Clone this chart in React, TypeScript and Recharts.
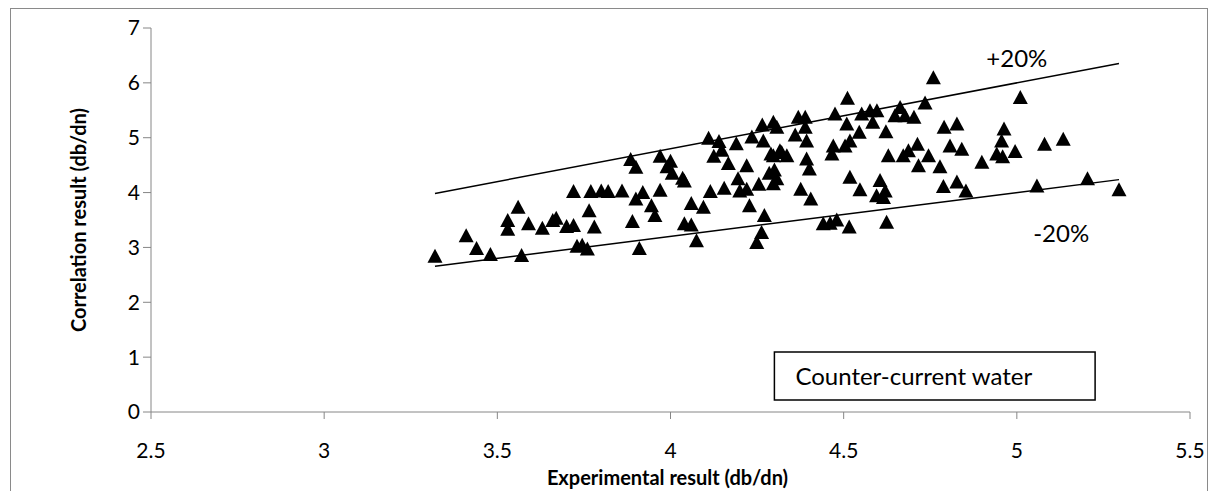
import React from "react";
import {
  ScatterChart,
  Scatter,
  XAxis,
  YAxis,
  ReferenceLine,
  ReferenceArea,
  ReferenceDot,
  Label,
} from "recharts";

// experimental (x) vs correlation (y), db/dn
const expResult = [
  3.32, 3.41, 3.44, 3.48, 3.53, 3.53, 3.56, 3.57, 3.59, 3.63,
  3.66, 3.67, 3.7, 3.72, 3.72, 3.73, 3.745, 3.76, 3.765, 3.77,
  3.78, 3.8, 3.82, 3.86, 3.885, 3.9, 3.9, 3.89, 3.92, 3.91,
  3.945, 3.955, 3.97, 3.97, 4.0, 3.99, 4.005, 4.035, 4.04, 4.06,
  4.095, 4.115, 4.155, 4.11, 4.14, 4.148, 4.125, 4.167, 4.19, 4.235,
  4.22, 4.195, 4.2, 4.22, 4.255, 4.228, 4.04, 4.06, 4.075, 4.265,
  4.297, 4.268, 4.29, 4.316, 4.285, 4.3, 4.297, 4.307, 4.271, 4.263,
  4.249, 4.307, 4.297, 4.336, 4.369, 4.389, 4.36, 4.389, 4.393, 4.321,
  4.393, 4.401, 4.376, 4.405, 4.475, 4.511, 4.509, 4.545, 4.518, 4.504,
  4.47, 4.466, 4.552, 4.576, 4.596, 4.584, 4.622, 4.629, 4.663, 4.648,
  4.672, 4.518, 4.547, 4.605, 4.595, 4.62, 4.615, 4.624, 4.441, 4.461,
  4.48, 4.516, 4.677, 4.703, 4.735, 4.759, 4.79, 4.827, 4.807, 4.841,
  4.713, 4.687, 4.745, 4.716, 4.778, 4.899, 4.788, 4.827, 4.853, 4.963,
  4.956, 4.942, 4.959, 4.995, 5.01, 5.08, 5.134, 5.058, 5.204, 5.295,
];

const corrResult = [
  2.85, 3.22, 2.99, 2.88, 3.5, 3.34, 3.74, 2.86, 3.44, 3.36,
  3.5, 3.54, 3.39, 3.41, 4.03, 3.03, 3.05, 2.98, 3.68, 4.03,
  3.38, 4.04, 4.03, 4.04, 4.61, 4.47, 3.89, 3.48, 4.01, 2.99,
  3.77, 3.59, 4.05, 4.67, 4.58, 4.48, 4.36, 4.27, 4.22, 3.81,
  3.74, 4.03, 4.09, 5.0, 4.94, 4.78, 4.67, 4.54, 4.9, 5.02,
  4.5, 4.26, 4.04, 4.07, 4.16, 3.77, 3.44, 3.42, 3.13, 5.24,
  5.29, 4.95, 4.71, 4.77, 4.36, 4.42, 4.17, 4.26, 3.59, 3.28,
  3.1, 5.2, 4.68, 4.68, 5.38, 5.38, 5.06, 5.2, 4.95, 4.74,
  4.62, 4.44, 4.07, 3.89, 5.44, 5.73, 5.26, 5.11, 4.95, 4.86,
  4.86, 4.71, 5.44, 5.5, 5.5, 5.29, 5.12, 4.68, 5.56, 5.41,
  4.68, 4.29, 4.06, 4.23, 3.95, 4.04, 3.92, 3.47, 3.44, 3.45,
  3.51, 3.38, 5.41, 5.38, 5.64, 6.1, 5.2, 5.26, 4.86, 4.8,
  4.89, 4.77, 4.68, 4.5, 4.48, 4.56, 4.12, 4.2, 4.04, 5.17,
  4.95, 4.71, 4.66, 4.76, 5.74, 4.89, 4.98, 4.13, 4.26, 4.06,
];

const xTicks = [2.5, 3, 3.5, 4, 4.5, 5, 5.5];
const yTicks = [0, 1, 2, 3, 4, 5, 6, 7];

// +/-20% deviation bands
const bandFactors = [1.2, 0.8];
const bandNames = ["+20%", "-20%"];

const seriesName = "Counter-current water";

const FONT = "Lato, 'Open Sans', sans-serif";

// excel-style filled triangle marker, centred on the point
const Triangle = (props: any) => {
  const { cx, cy } = props;
  if (cx == null || cy == null) return null;
  const w = 7.5;
  const h = 7;
  return (
    <polygon
      points={`${cx},${cy - h} ${cx - w},${cy + h} ${cx + w},${cy + h}`}
      fill="#000"
    />
  );
};

export default function App() {
  const data = expResult.map((x, i) => ({ x, y: corrResult[i] }));
  const xMin = Math.min(...expResult);
  const xMax = Math.max(...expResult);

  return (
    <div
      style={{
        position: "fixed",
        left: 0,
        top: 0,
        width: 1218,
        height: 491,
        overflow: "hidden",
        background: "#fff",
        fontFamily: FONT,
      }}
    >
      <div
        style={{
          position: "absolute",
          left: 10,
          top: 8,
          width: 1198,
          height: 500,
          border: "1px solid #8a8a8a",
          boxSizing: "border-box",
        }}
      />
      <ScatterChart
        width={1218}
        height={491}
        margin={{ top: 28, right: 28, bottom: 0, left: 0 }}
        style={{ fontFamily: FONT }}
      >
        <XAxis
          type="number"
          dataKey="x"
          domain={[2.5, 5.5]}
          ticks={xTicks}
          interval={0}
          height={79}
          tickSize={7}
          tickMargin={24}
          stroke="#868686"
          tick={{ fill: "#000", fontSize: 21 }}
        >
          <Label
            value="Experimental result (db/dn)"
            position="insideBottom"
            offset={6}
            dx={-3}
            style={{ fontWeight: "bold", fontSize: 20, fill: "#000" }}
          />
        </XAxis>
        <YAxis
          type="number"
          dataKey="y"
          domain={[0, 7]}
          ticks={yTicks}
          interval={0}
          width={151}
          tickSize={8}
          tickMargin={3}
          stroke="#868686"
          tick={{ fill: "#000", fontSize: 21 }}
        >
          <Label
            value="Correlation result (db/dn)"
            angle={-90}
            position="insideLeft"
            offset={79}
            style={{ fontWeight: "bold", fontSize: 20, fill: "#000", textAnchor: "middle" }}
          />
        </YAxis>
        {bandFactors.map((f) => (
          <ReferenceLine
            key={f}
            segment={[
              { x: xMin, y: xMin * f },
              { x: xMax, y: xMax * f },
            ]}
            stroke="#000"
            strokeWidth={1.5}
          />
        ))}
        <Scatter
          name={seriesName}
          data={data}
          fill="#000"
          shape={<Triangle />}
          isAnimationActive={false}
        />
        <ReferenceDot
          x={5.0}
          y={6.45}
          r={0}
          fill="none"
          stroke="none"
          label={{ value: bandNames[0], position: "center", fontSize: 24, fill: "#000" }}
        />
        <ReferenceDot
          x={5.128}
          y={3.26}
          r={0}
          fill="none"
          stroke="none"
          label={{ value: bandNames[1], position: "center", fontSize: 24, fill: "#000" }}
        />
        <ReferenceArea
          x1={4.3}
          x2={5.226}
          y1={0.219}
          y2={1.093}
          fill="#fff"
          fillOpacity={1}
          stroke="#000"
          strokeWidth={1.5}
        >
          <Label
            value={seriesName}
            position="insideLeft"
            offset={21}
            style={{ fontSize: 24, fill: "#000" }}
          />
        </ReferenceArea>
      </ScatterChart>
    </div>
  );
}
